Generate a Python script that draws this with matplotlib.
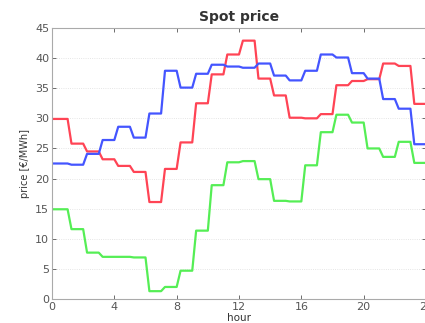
import matplotlib
matplotlib.use("Agg")
import matplotlib.pyplot as plt

# hourly spot prices [EUR/MWh] for three days
hours = list(range(24))
price_red = [29.9, 25.8, 24.5, 23.2, 22.1, 21.1, 16.1, 21.6, 26.0, 32.5, 37.3, 40.6,
             42.9, 36.6, 33.8, 30.1, 30.0, 30.7, 35.5, 36.2, 36.5, 39.1, 38.7, 32.4]
price_blue = [22.5, 22.3, 24.1, 26.4, 28.6, 26.8, 30.8, 37.9, 35.1, 37.4, 38.9, 38.6,
              38.4, 39.1, 37.1, 36.3, 37.9, 40.6, 40.1, 37.5, 36.6, 33.2, 31.6, 25.7]
price_green = [14.9, 11.6, 7.7, 7.0, 7.0, 6.9, 1.3, 2.0, 4.7, 11.35, 18.9, 22.7,
               22.9, 19.9, 16.3, 16.2, 22.2, 27.7, 30.6, 29.3, 25.0, 23.6, 26.1, 22.6]

ramp = 0.25  # price moves to the new level during the first quarter of each hour


def stepped(vals):
    xs, ys = [], []
    for h, v in zip(hours, vals):
        xs += [h + ramp if h else h, h + 1]
        ys += [v, v]
    return xs, ys


fig = plt.figure(figsize=(4.25, 3.23), dpi=100)
ax = fig.add_axes([52 / 425, 24 / 323, 374 / 425, 271 / 323])

for vals, col in [(price_red, "#ff4455"), (price_blue, "#4455ff"), (price_green, "#55ee55")]:
    x, y = stepped(vals)
    ax.plot(x, y, color=col, lw=1.6, solid_joinstyle="round")

ax.set_xlim(0, 24)
ax.set_ylim(0, 45)
ax.set_xticks(range(0, 25, 4))
ax.set_yticks(range(0, 46, 5))
ax.tick_params(direction="in", top=True, right=True, labelsize=8,
               colors="#555555", length=3, width=0.6, pad=2)
for s in ax.spines.values():
    s.set_color("#aaaaaa")
    s.set_linewidth(0.8)
ax.yaxis.grid(True, linestyle=":", color="#dddddd", linewidth=0.6)

ax.set_title("Spot price", fontsize=10, fontweight="bold", color="#333333", pad=5)
ax.set_xlabel("hour", fontsize=7.5, color="#333333", labelpad=1)
ax.set_ylabel("price [€/MWh]", fontsize=7, color="#333333", labelpad=4)

fig.savefig("out.png", dpi=100)
